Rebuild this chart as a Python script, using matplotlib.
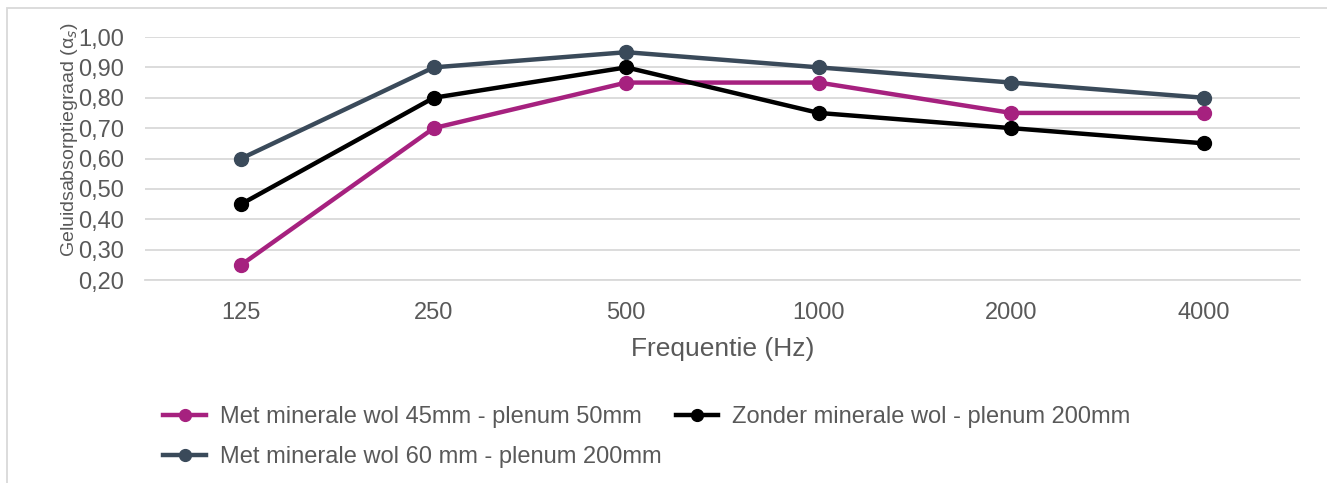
import matplotlib.pyplot as plt
from matplotlib.patches import Rectangle

# data
freqs = ['125', '250', '500', '1000', '2000', '4000']
wol45_plenum50 = [0.25, 0.70, 0.85, 0.85, 0.75, 0.75]
zonder_plenum200 = [0.45, 0.80, 0.90, 0.75, 0.70, 0.65]
wol60_plenum200 = [0.60, 0.90, 0.95, 0.90, 0.85, 0.80]
y_ticks = [0.2, 0.3, 0.4, 0.5, 0.6, 0.7, 0.8, 0.9, 1.0]

text_col = '#595959'
grid_col = '#D9D9D9'
plt.rcParams['font.family'] = ['Liberation Sans', 'DejaVu Sans']

fig = plt.figure(figsize=(13.27, 4.83), dpi=100)
ax = fig.add_axes([145/1327, 1-280/483, 1155/1327, 243/483])

x = range(len(freqs))
l1, = ax.plot(x, wol45_plenum50, color='#A6217F', lw=3.2, marker='o', ms=10,
              label='Met minerale wol 45mm - plenum 50mm')
l2, = ax.plot(x, zonder_plenum200, color='#000000', lw=3.2, marker='o', ms=10,
              label='Zonder minerale wol - plenum 200mm')
l3, = ax.plot(x, wol60_plenum200, color='#3A4A5A', lw=3.2, marker='o', ms=10,
              label='Met minerale wol 60 mm - plenum 200mm')

ax.set_xlim(-0.5, len(freqs) - 0.5)
ax.set_ylim(0.2, 1.0)
ax.set_yticks(y_ticks)
ax.set_yticklabels(['{:.2f}'.format(v).replace('.', ',') for v in y_ticks])
ax.set_xticks(list(x))
ax.set_xticklabels(freqs)
ax.grid(axis='y', color=grid_col, lw=1.3)
ax.set_axisbelow(True)
for s in ['top', 'right', 'left']:
    ax.spines[s].set_visible(False)
ax.spines['bottom'].set_color(grid_col)
ax.spines['bottom'].set_linewidth(1.3)
ax.tick_params(axis='both', length=0, labelsize=17, colors=text_col)
ax.tick_params(axis='y', pad=15)
ax.tick_params(axis='x', pad=16)
ax.set_xlabel('Frequentie (Hz)', fontsize=19, color=text_col, labelpad=9)

fig.text(69/1327, 1-140/483, 'Geluidsabsorptiegraad (α$_s$)', rotation=90,
         ha='center', va='center', fontsize=14, color=text_col)

leg = fig.legend(handles=[l1, l3, l2], ncol=2, loc='upper left',
                 bbox_to_anchor=(142/1327, 1-385/483), frameon=False,
                 fontsize=17, handlelength=1.8, handletextpad=0.6,
                 columnspacing=0.6, labelspacing=0.75, markerscale=0.85)
for t in leg.get_texts():
    t.set_color(text_col)

fig.patches.append(Rectangle((7/1327, -0.01), 1.5, 1-8/483 + 0.01,
                             transform=fig.transFigure, fill=False,
                             edgecolor=grid_col, lw=1.3))

fig.savefig('out.png', dpi=100)
